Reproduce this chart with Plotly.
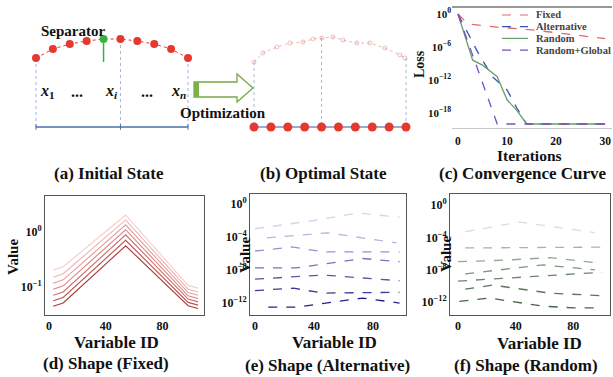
import plotly.graph_objects as go

W, H = 613, 377
FONT = "Liberation Serif"

# ---------------- data ----------------
# (a) initial state: variable index and height above baseline
A_INDEX = [0, 1, 2, 3, 4, 5, 6, 7, 8, 9]
A_HEIGHT = [69, 78, 83, 86, 88, 88, 86, 83, 78, 69]
A_SEPARATOR = 4
A_SEP_STEM = [88, 65]
A_GUIDES = [0, 5, 9]
A_XLABELS = ["<i>x</i><sub>1</sub>", "...", "<i>x</i><sub><i>i</i></sub>", "...", "<i>x</i><sub><i>n</i></sub>"]

# (b) optimal state
B_INDEX = [0, 1, 2, 3, 4, 5, 6, 7, 8, 9]
B_HEIGHT = [0, 0, 0, 0, 0, 0, 0, 0, 0, 0]
B_GHOST_X = [0, 0.53, 1.36, 2.13, 2.9, 3.49, 4.02, 4.67, 5.27, 6.09, 6.86, 7.75, 8.64, 8.94]
B_GHOST_H = [65, 74, 80, 84, 85, 88, 89, 90, 87, 84, 84, 79, 72, 69]
B_GUIDES = [0, 4, 9]
B_GUIDE_TOP = [65, 89, 69]

# (c) convergence curve
C_NAMES = ["Fixed", "Alternative", "Random", "Random+Global"]
ITER_FIXED = [0, 2, 8, 15, 22, 30]
LOSS_FIXED = [1.0, 1.6e-2, 4.0e-3, 1.3e-3, 2.5e-4, 3.2e-5]
ITER_ALT = [0, 4, 7, 10, 12, 14, 30]
LOSS_ALT = [1.0, 1.3e-7, 4e-12, 1.6e-14, 8e-18, 1e-20, 1e-20]
ITER_RAND = [0, 3, 5, 8, 10, 12, 14, 30]
LOSS_RAND = [1.0, 4e-9, 5e-10, 4e-12, 2.5e-16, 3e-18, 1e-20, 1e-20]
ITER_RG = [0, 8, 30]
LOSS_RG = [1.0, 1e-20, 1e-20]
C_YTICKS = [1, 1e-6, 1e-12, 1e-18]
C_YTEXT = ["10<sup>0</sup>", "10<sup>−6</sup>", "10<sup>−12</sup>", "10<sup>−18</sup>"]
C_XTICKS = [0, 10, 20, 30]

# (d) shape (fixed)
D_X = [3, 10, 54, 98, 105]
D_LINES = [
    [0.204, 0.234, 2.04, 0.107, 0.0955],
    [0.151, 0.174, 1.66, 0.0912, 0.0813],
    [0.117, 0.135, 1.35, 0.0794, 0.0708],
    [0.0912, 0.105, 1.10, 0.0692, 0.0617],
    [0.0708, 0.0813, 0.891, 0.0603, 0.0537],
    [0.0562, 0.0646, 0.708, 0.0525, 0.0468],
    [0.0447, 0.0513, 0.562, 0.0457, 0.0407],
]
D_YTICKS = [1, 0.1]
D_YTEXT = ["10<sup>0</sup>", "10<sup>−1</sup>"]

# (e) shape (alternative)
E_X = [
    [0, 40, 70, 98],
    [8, 49, 96],
    [0, 25, 46, 98],
    [0, 28, 73, 98],
    [0, 46, 98],
    [0, 26, 46, 98],
    [9, 28, 73, 98],
]
E_Y = [
    [1e-3, 1e-2, 7.9e-2, 2.5e-2],
    [7.9e-5, 3.2e-4, 2.0e-5],
    [2.0e-6, 6.3e-6, 1.6e-6, 1.6e-6],
    [1.8e-8, 1.8e-8, 2.5e-7, 1e-7],
    [7.9e-10, 2.5e-9, 5e-10],
    [3.2e-11, 6.3e-11, 1.6e-11, 2.0e-11],
    [3.2e-13, 3.2e-13, 4e-12, 1e-12],
]

# (f) shape (random)
F_X = [
    [5, 43, 95],
    [5, 100],
    [0, 34, 64, 95],
    [5, 59, 95],
    [0, 100],
    [5, 24, 64, 100],
    [1, 22, 59, 80, 100],
]
F_Y = [
    [5e-4, 7.9e-3, 4e-4],
    [5e-6, 6.3e-6],
    [1e-7, 1.6e-7, 3.2e-7, 7.9e-8],
    [3.2e-9, 4e-8, 1e-8],
    [4e-10, 5e-9],
    [4e-11, 1.3e-10, 1.3e-11, 6.3e-12],
    [1.3e-12, 3.2e-12, 3.2e-13, 2e-13, 2e-13],
]
SHAPE_YTICKS = [1, 1e-4, 1e-8, 1e-12]
SHAPE_YTEXT = ["10<sup>0</sup>", "10<sup>−4</sup>", "10<sup>−8</sup>", "10<sup>−12</sup>"]
SHAPE_XTICKS = [0, 40, 80]

# ---------------- styles ----------------
RED = "#e5392f"
GREEN = "#3fae3f"
D_COLORS = ["#f7cccc", "#efb4b4", "#e59c9c", "#da8484", "#cd6c6c", "#bd5252", "#a83a3a"]
E_COLORS = ["#d4d4ef", "#b4b4e0", "#9494cf", "#7474bd", "#5656aa", "#3c3c98", "#222286"]
F_COLORS = ["#dcdcdc", "#a9b3a9", "#92a892", "#7c977c", "#6a876a", "#587658", "#466446"]
C_COLORS = ["#e06a6a", "#3556b0", "#6a9e6a", "#7b4fc4"]
C_DASH = ["dash", "dash", "solid", "dash"]


def dx(px):
    return px / W


def dy(py):
    return 1 - py / H


fig = go.Figure()

# ---- (a) ----
for g in A_GUIDES:
    fig.add_trace(go.Scatter(x=[g, g], y=[A_HEIGHT[g], 0], mode="lines",
                             line=dict(color="#9db4dc", width=1, dash="dot"),
                             xaxis="x", yaxis="y", hoverinfo="skip"))
fig.add_trace(go.Scatter(x=[A_INDEX[0], A_INDEX[-1]], y=[0, 0], mode="lines",
                         line=dict(color="#4a6fb0", width=1.5), xaxis="x", yaxis="y"))
fig.add_trace(go.Scatter(x=A_GUIDES, y=[0] * len(A_GUIDES), mode="markers",
                         marker=dict(symbol="line-ns-open", size=4, color="#4a6fb0", line=dict(width=1)),
                         xaxis="x", yaxis="y"))
fig.add_trace(go.Scatter(x=[A_SEPARATOR, A_SEPARATOR], y=A_SEP_STEM, mode="lines",
                         line=dict(color=GREEN, width=1.5), xaxis="x", yaxis="y"))
fig.add_trace(go.Scatter(x=A_INDEX, y=A_HEIGHT, mode="lines+markers",
                         line=dict(color=RED, width=1, dash="dot"),
                         marker=dict(size=8, color=[GREEN if i == A_SEPARATOR else RED for i in A_INDEX]),
                         xaxis="x", yaxis="y"))

# ---- (b) ----
for g, top in zip(B_GUIDES, B_GUIDE_TOP):
    fig.add_trace(go.Scatter(x=[g, g], y=[top, 0], mode="lines",
                             line=dict(color="#a9b9d6", width=1, dash="dot"),
                             xaxis="x2", yaxis="y2"))
fig.add_trace(go.Scatter(x=B_GHOST_X, y=B_GHOST_H, mode="lines+markers",
                         line=dict(color="rgba(225,110,110,0.5)", width=1, dash="dot"),
                         marker=dict(symbol="circle-open", size=4, color="rgba(225,110,110,0.45)"),
                         xaxis="x2", yaxis="y2"))
fig.add_trace(go.Scatter(x=B_INDEX, y=B_HEIGHT, mode="lines+markers",
                         line=dict(color="#7390c4", width=1.5),
                         marker=dict(size=9, color=RED),
                         xaxis="x2", yaxis="y2"))

# ---- (c) ----
for xs, ys, col, dsh in zip([ITER_FIXED, ITER_ALT, ITER_RAND, ITER_RG],
                            [LOSS_FIXED, LOSS_ALT, LOSS_RAND, LOSS_RG], C_COLORS, C_DASH):
    fig.add_trace(go.Scatter(x=xs, y=ys, mode="lines", line=dict(color=col, width=1.3, dash=dsh),
                             xaxis="x3", yaxis="y3"))

# ---- (d) ----
for ys, col in zip(D_LINES, D_COLORS):
    fig.add_trace(go.Scatter(x=D_X, y=ys, mode="lines", line=dict(color=col, width=1.1),
                             xaxis="x4", yaxis="y4"))

# ---- (e) ----
for xs, ys, col in zip(E_X, E_Y, E_COLORS):
    fig.add_trace(go.Scatter(x=xs, y=ys, mode="lines", line=dict(color=col, width=1.3, dash="dash"),
                             xaxis="x5", yaxis="y5"))

# ---- (f) ----
for xs, ys, col in zip(F_X, F_Y, F_COLORS):
    fig.add_trace(go.Scatter(x=xs, y=ys, mode="lines", line=dict(color=col, width=1.3, dash="dash"),
                             xaxis="x6", yaxis="y6"))

tickfont = dict(family=FONT, size=12, color="#111", weight="bold")
hidden = dict(visible=False, showgrid=False, zeroline=False, fixedrange=True)
frame = dict(showline=True, mirror=True, linecolor="#555", linewidth=1, showgrid=False,
             zeroline=False, ticks="", tickfont=tickfont)

layout = dict(
    width=W, height=H, margin=dict(l=0, r=0, t=0, b=0),
    paper_bgcolor="white", plot_bgcolor="rgba(0,0,0,0)", showlegend=False,
    font=dict(family=FONT, color="#111"),
    xaxis=dict(domain=[dx(20), dx(205)], range=[-0.947, 10.007], anchor="y", **hidden),
    yaxis=dict(domain=[dy(140), dy(20)], range=[-13, 107], anchor="x", **hidden),
    xaxis2=dict(domain=[dx(235), dx(420)], range=[-1.125, 9.829], anchor="y2", **hidden),
    yaxis2=dict(domain=[dy(140), dy(20)], range=[-13, 107], anchor="x2", **hidden),
    xaxis3=dict(domain=[dx(452), dx(612)], range=[-1.22, 31.4], anchor="y3",
                showline=True, linecolor="#c8c8c8", showgrid=False, zeroline=False,
                tickmode="array", tickvals=C_XTICKS, ticks="",
                tickfont=dict(family=FONT, size=11.5, color="#111", weight="bold"),
                ticklabelstandoff=2),
    yaxis3=dict(domain=[dy(128), dy(7)], type="log", range=[-20.73, 1.27], anchor="x3",
                showline=False, showgrid=False, zeroline=False, tickmode="array",
                tickvals=C_YTICKS, ticktext=C_YTEXT, ticks="",
                tickfont=dict(family=FONT, size=11, color="#111", weight="bold")),
    xaxis4=dict(domain=[dx(45), dx(204)], range=[-2.8, 109.2], anchor="y4",
                tickmode="array", tickvals=SHAPE_XTICKS, **frame),
    yaxis4=dict(domain=[dy(315), dy(196)], type="log", range=[-1.509, 0.655], anchor="x4",
                tickmode="array", tickvals=D_YTICKS, ticktext=D_YTEXT, **frame),
    xaxis5=dict(domain=[dx(250), dx(406)], range=[-3.4, 102.4], anchor="y5",
                tickmode="array", tickvals=SHAPE_XTICKS, **frame),
    yaxis5=dict(domain=[dy(315), dy(194)], type="log", range=[-13.45, 1.21], anchor="x5",
                tickmode="array", tickvals=SHAPE_YTICKS, ticktext=SHAPE_YTEXT, **frame),
    xaxis6=dict(domain=[dx(450), dx(610)], range=[-5.56, 105.5], anchor="y6",
                tickmode="array", tickvals=SHAPE_XTICKS, **frame),
    yaxis6=dict(domain=[dy(315), dy(194)], type="log", range=[-13.58, 1.36], anchor="x6",
                tickmode="array", tickvals=SHAPE_YTICKS, ticktext=SHAPE_YTEXT, **frame),
)
fig.update_layout(**layout)

shapes = []
# top border of panel (c)
shapes.append(dict(type="line", xref="paper", yref="paper", x0=dx(452), x1=dx(612), y0=dy(7), y1=dy(7),
                   line=dict(color="#333", width=1.2)))
# Optimization arrow
arrow_pts = [(194, 82), (237, 82), (237, 74), (253, 88), (237, 102), (237, 97), (194, 97)]
path = "M " + " L ".join(f"{dx(px):.5f},{dy(py):.5f}" for px, py in arrow_pts) + " Z"
shapes.append(dict(type="path", xref="paper", yref="paper", path=path,
                   fillcolor="white", line=dict(color="#78a848", width=1.3)))
shapes.append(dict(type="rect", xref="paper", yref="paper", x0=dx(194), x1=dx(199), y0=dy(97), y1=dy(82),
                   fillcolor="#7cb24a", line=dict(width=0)))
# legend of panel (c)
for i, (col, dsh) in enumerate(zip(C_COLORS, C_DASH)):
    yy = 15 + i * 11.7
    shapes.append(dict(type="line", xref="paper", yref="paper", x0=dx(502), x1=dx(528),
                       y0=dy(yy), y1=dy(yy), line=dict(color=col, width=1.2, dash=dsh)))
fig.update_layout(shapes=shapes)

ann = []


def text(px, py, s, size, angle=0, xanchor="center", weight="bold", color="#111"):
    ann.append(dict(x=dx(px), y=dy(py), xref="paper", yref="paper", text=s, showarrow=False,
                    xanchor=xanchor, yanchor="middle", textangle=angle,
                    font=dict(family=FONT, size=size, color=color, weight=weight)))


for i, name in enumerate(C_NAMES):
    text(534, 15 + i * 11.7, name, 10.5, xanchor="left", color="#444")

text(73, 31, "Separator", 15)
for lx, s in zip([47, 77, 111, 147, 178], A_XLABELS):
    text(lx, 91, "<b>" + s + "</b>", 16)
text(223, 113, "Optimization", 15)
text(420, 64, "Loss", 14, angle=-90)
text(529, 156, "Iterations", 15.5)
text(109, 173, "(a) Initial State", 17)
text(323, 173, "(b) Optimal State", 17)
text(523, 173, "(c) Convergence Curve", 17)

text(13, 257, "Value", 15, angle=-90)
text(245, 255, "Value", 15, angle=-90)
text(446, 254, "Value", 15, angle=-90)
text(117, 342, "Variable ID", 17)
text(334, 342, "Variable ID", 17)
text(539, 343, "Variable ID", 17)
text(106, 363, "(d) Shape (Fixed)", 17)
text(327, 365, "(e) Shape (Alternative)", 17)
text(526, 365, "(f) Shape (Random)", 17)

fig.update_layout(annotations=ann)
fig.write_html("out.html", config={"displayModeBar": False},
               post_script="document.body.style.margin='0';document.body.style.overflow='hidden';")
